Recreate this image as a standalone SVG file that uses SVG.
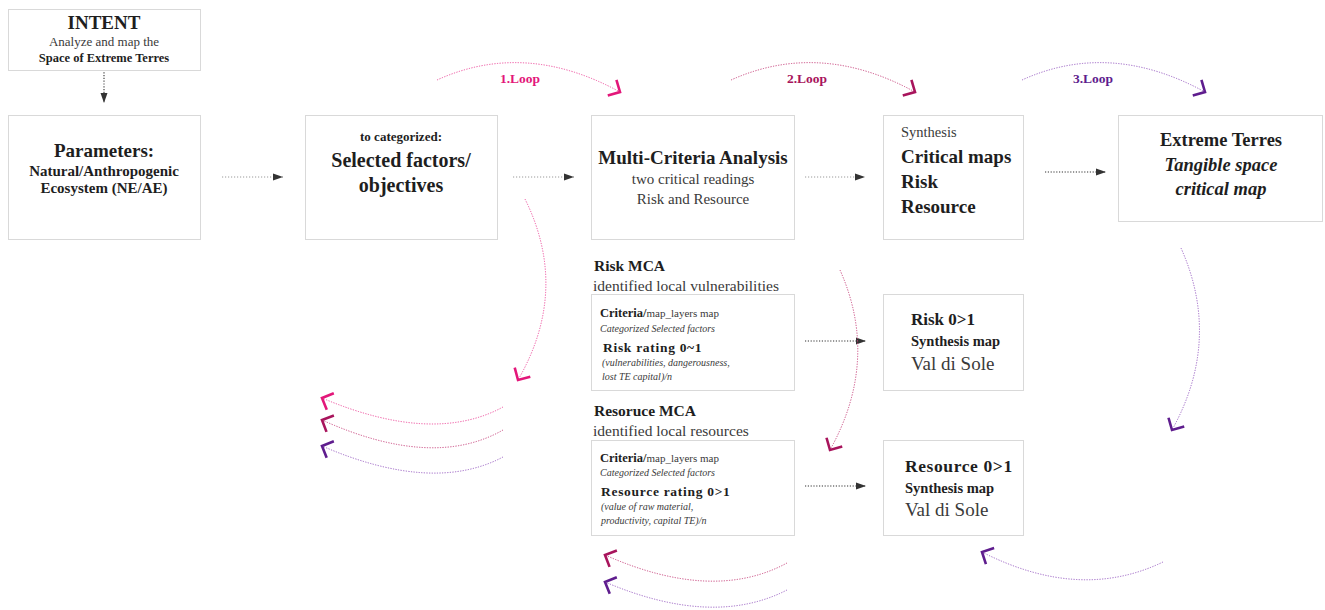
<svg xmlns="http://www.w3.org/2000/svg" width="1325" height="610" viewBox="0 0 1325 610">
<style>
.box{fill:#fff;stroke:#d9d9d9;stroke-width:1}
text{font-family:"Liberation Serif","DejaVu Serif",serif;fill:#1e1e1e}
.b{font-weight:bold}
.r{fill:#3a3a3a}
.i{font-style:italic;fill:#3a3a3a}
.c{text-anchor:middle}
.lt{fill:none;stroke:#9a9a9a;stroke-width:1;stroke-dasharray:1.2 1.8}
.dk{fill:none;stroke:#333;stroke-width:1.1;stroke-dasharray:1.2 1.6}
.lp{fill:none;stroke:#ee4f9e;stroke-width:1;stroke-dasharray:1.2 1.4}
.lc{fill:none;stroke:#c9477f;stroke-width:1;stroke-dasharray:1.2 1.4}
.lv{fill:none;stroke:#9b62c4;stroke-width:1;stroke-dasharray:1.2 1.4}
</style>
<defs>
<marker id="tri" markerUnits="userSpaceOnUse" markerWidth="12" markerHeight="10" refX="10" refY="3.5" orient="auto" overflow="visible">
<path d="M0,0 L10,3.5 L0,7 z" fill="#333"/>
</marker>
<marker id="chP" markerUnits="userSpaceOnUse" markerWidth="20" markerHeight="20" refX="0" refY="0" orient="auto" overflow="visible">
<path d="M-9,-9 L0,0 L-9,9" fill="none" stroke="#e3177a" stroke-width="2.6"/>
</marker>
<marker id="chC" markerUnits="userSpaceOnUse" markerWidth="20" markerHeight="20" refX="0" refY="0" orient="auto" overflow="visible">
<path d="M-9,-9 L0,0 L-9,9" fill="none" stroke="#a8145c" stroke-width="2.6"/>
</marker>
<marker id="chV" markerUnits="userSpaceOnUse" markerWidth="20" markerHeight="20" refX="0" refY="0" orient="auto" overflow="visible">
<path d="M-9,-9 L0,0 L-9,9" fill="none" stroke="#5f1d8e" stroke-width="2.6"/>
</marker>
</defs>

<g id="connectors">
<path class="dk" d="M104,47 L104,103" marker-end="url(#tri)"/>
<path class="lt" d="M222,177 L283,177" marker-end="url(#tri)"/>
<path class="lt" d="M513,177 L574,177" marker-end="url(#tri)"/>
<path class="lt" d="M805,177 L865,177" marker-end="url(#tri)"/>
<path class="dk" d="M1045,172 L1106,172" marker-end="url(#tri)"/>
<path class="dk" d="M805,341 L866,341" marker-end="url(#tri)"/>
<path class="dk" d="M805,486 L866,486" marker-end="url(#tri)"/>

<path class="lp" d="M437,80 Q525,40 620,92" marker-end="url(#chP)"/>
<path class="lc" d="M731,80 Q820,40 915,92" marker-end="url(#chC)"/>
<path class="lv" d="M1022,80 Q1110,40 1205,92" marker-end="url(#chV)"/>

<path class="lp" d="M525,199 Q570,290 518,380" marker-end="url(#chP)"/>
<path class="lc" d="M840,270 Q880,360 830,450" marker-end="url(#chC)"/>
<path class="lv" d="M1181,248 Q1222,340 1172,430" marker-end="url(#chV)"/>

<path class="lp" d="M503,407 Q433,445 322,398" marker-end="url(#chP)"/>
<path class="lc" d="M503,430 Q433,470 322,420" marker-end="url(#chC)"/>
<path class="lv" d="M503,457 Q433,494 322,446" marker-end="url(#chV)"/>
<path class="lc" d="M787,563 Q713,603 605,555" marker-end="url(#chC)"/>
<path class="lv" d="M787,590 Q713,628 605,582" marker-end="url(#chV)"/>
<path class="lv" d="M1163,562 Q1080,602 982,552" marker-end="url(#chV)"/>

<text class="b c" x="520" y="83" font-size="13.5" style="fill:#e3177a">1.Loop</text>
<text class="b c" x="807" y="83" font-size="13.5" style="fill:#a8145c">2.Loop</text>
<text class="b c" x="1093" y="83" font-size="13.5" style="fill:#5f1d8e">3.Loop</text>
</g>

<g id="intent">
<rect class="box" x="8.5" y="9.5" width="192" height="61"/>
<text class="b c" x="104" y="29" font-size="19">INTENT</text>
<text class="r c" x="104" y="46" font-size="13">Analyze and map the</text>
<text class="b c" x="104" y="62" font-size="12.5">Space of Extreme Terres</text>
</g>

<g id="parameters">
<rect class="box" x="8.5" y="115.5" width="192" height="124"/>
<text class="b c" x="104" y="157" font-size="19">Parameters:</text>
<text class="b c" x="104" y="176" font-size="15">Natural/Anthropogenic</text>
<text class="b c" x="104" y="193" font-size="15">Ecosystem (NE/AE)</text>
</g>

<g id="selected">
<rect class="box" x="305.5" y="115.5" width="192" height="124"/>
<text class="b c" x="401" y="141" font-size="13">to categorized:</text>
<text class="b c" x="401" y="167" font-size="20">Selected factors/</text>
<text class="b c" x="401" y="192" font-size="20">objectives</text>
</g>

<g id="mca">
<rect class="box" x="591.5" y="115.5" width="203" height="124"/>
<text class="b c" x="693" y="164" font-size="19">Multi-Criteria Analysis</text>
<text class="r c" x="693" y="184" font-size="15">two critical readings</text>
<text class="r c" x="693" y="204" font-size="15">Risk and Resource</text>
</g>

<g id="synthesis">
<rect class="box" x="883.5" y="115.5" width="140" height="124"/>
<text class="r" x="901" y="137" font-size="14.5">Synthesis</text>
<text class="b" x="901" y="163" font-size="19">Critical maps</text>
<text class="b" x="901" y="188" font-size="19">Risk</text>
<text class="b" x="901" y="213" font-size="19">Resource</text>
</g>

<g id="extreme">
<rect class="box" x="1118.5" y="115.5" width="204" height="106"/>
<text class="b c" x="1221" y="146" font-size="18.5">Extreme Terres</text>
<text class="b c" x="1221" y="171" font-size="18.5" font-style="italic">Tangible space</text>
<text class="b c" x="1221" y="195" font-size="18.5" font-style="italic">critical map</text>
</g>

<g id="risk-mca">
<text class="b" x="594" y="271" font-size="15.5">Risk MCA</text>
<text class="r" x="593" y="291" font-size="15.5">identified local vulnerabilities</text>
<rect class="box" x="591.5" y="294.5" width="203" height="96"/>
<text x="600" y="317" font-size="12.5"><tspan class="b">Criteria/</tspan><tspan class="r" font-size="11">map_layers map</tspan></text>
<text class="i" x="600" y="332" font-size="10">Categorized Selected factors</text>
<text class="b" x="603" y="352" font-size="13.5" letter-spacing="0.7">Risk rating 0~1</text>
<text class="i" x="602" y="366" font-size="10">(vulnerabilities, dangerousness,</text>
<text class="i" x="602" y="380" font-size="10">lost TE capital)/n</text>
</g>

<g id="resource-mca">
<text class="b" x="594" y="416" font-size="15.5">Resoruce MCA</text>
<text class="r" x="593" y="436" font-size="15.5">identified local resources</text>
<rect class="box" x="591.5" y="440.5" width="203" height="95"/>
<text x="600" y="462" font-size="12.5"><tspan class="b">Criteria/</tspan><tspan class="r" font-size="11">map_layers map</tspan></text>
<text class="i" x="600" y="476" font-size="10">Categorized Selected factors</text>
<text class="b" x="601" y="496" font-size="13.5" letter-spacing="0.7">Resource rating 0&gt;1</text>
<text class="i" x="601" y="510" font-size="10">(value of raw material,</text>
<text class="i" x="601" y="524" font-size="10">productivity, capital TE)/n</text>
</g>

<g id="risk-synthesis">
<rect class="box" x="883.5" y="294.5" width="140" height="96"/>
<text class="b" x="911" y="325" font-size="17">Risk 0&gt;1</text>
<text class="b" x="911" y="346" font-size="14.5">Synthesis map</text>
<text class="r" x="911" y="370" font-size="19">Val di Sole</text>
</g>

<g id="resource-synthesis">
<rect class="box" x="883.5" y="440.5" width="140" height="95"/>
<text class="b" x="905" y="472" font-size="17.5" letter-spacing="0.6">Resource 0&gt;1</text>
<text class="b" x="905" y="493" font-size="14.5">Synthesis map</text>
<text class="r" x="905" y="516" font-size="19">Val di Sole</text>
</g>
</svg>
